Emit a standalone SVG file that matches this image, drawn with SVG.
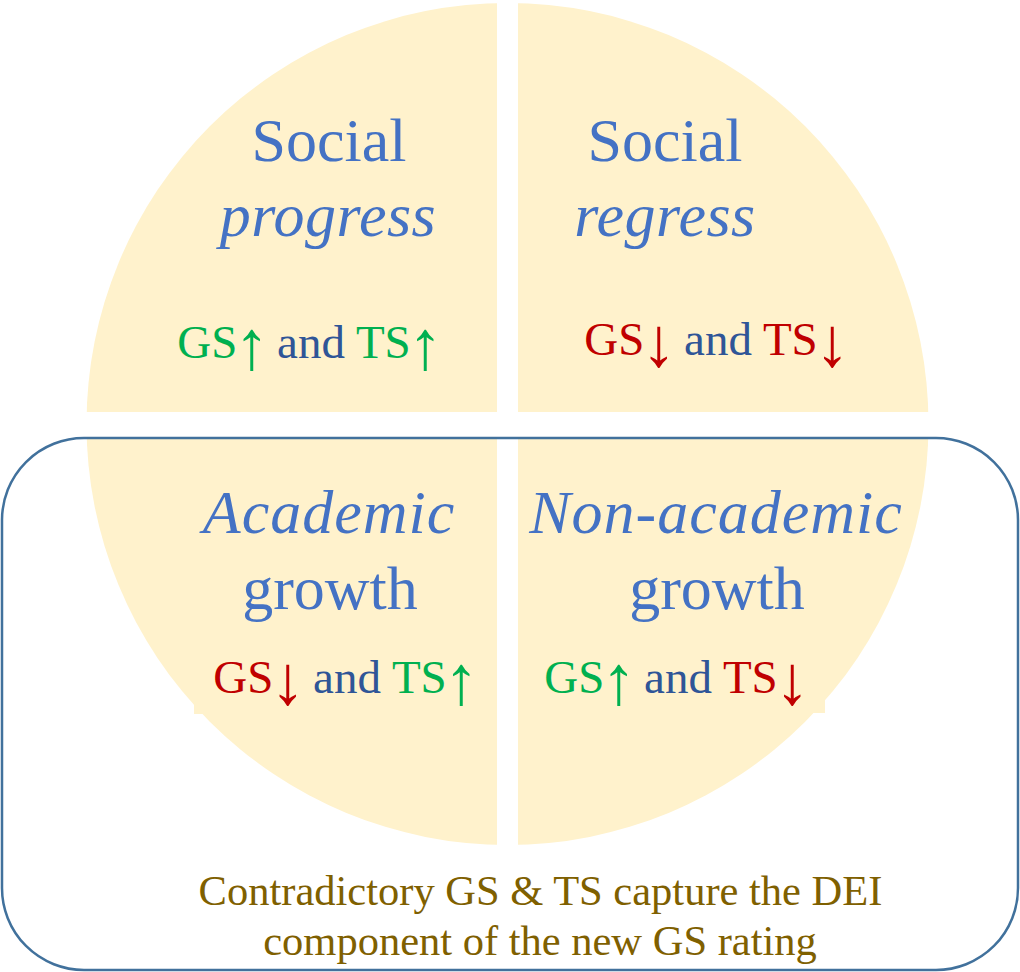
<svg xmlns="http://www.w3.org/2000/svg" width="1020" height="972" viewBox="0 0 1020 972">
  <style>
    .quad { fill: #FFF2CC; }
    .title { font-family: "Liberation Serif", "Times New Roman", serif; font-size: 62px; fill: #4472C4; text-anchor: middle; }
    .it { font-style: italic; }
    .rule { font-family: "Liberation Serif", "Times New Roman", serif; font-size: 47px; text-anchor: middle; }
    .arr { font-size: 70px; }
    .up { fill: #00B050; }
    .down { fill: #C00000; }
    .and { fill: #2F5597; }
    .note { font-family: "Liberation Serif", "Times New Roman", serif; font-size: 42.5px; fill: #7F6000; text-anchor: middle; }
    .frame { fill: none; stroke: #41719C; stroke-width: 2.5; }
  </style>
  <defs>
    <clipPath id="disc">
      <circle cx="507.5" cy="424" r="421"/>
    </clipPath>
  </defs>

  <!-- four quadrants of the disc, separated by white gaps -->
  <g id="quadrants" clip-path="url(#disc)">
    <rect class="quad" x="0" y="0" width="497" height="412"/>
    <rect class="quad" x="518" y="0" width="502" height="412"/>
    <rect class="quad" x="0" y="437" width="497" height="535"/>
    <rect class="quad" x="518" y="437" width="502" height="535"/>
  </g>
  <!-- label backgrounds of the lower quadrants -->
  <rect class="quad" x="194" y="650" width="303" height="64"/>
  <rect class="quad" x="518" y="650" width="307" height="63"/>

  <g id="social-progress">
    <text class="title" x="329" y="161">Social</text>
    <text class="title it" x="328" y="236" letter-spacing="0.5">progress</text>
    <text class="rule" x="310" y="358"><tspan class="up">GS</tspan><tspan class="up arr" dx="-3" dy="11">↑</tspan><tspan class="and" dx="-4" dy="-11"> and </tspan><tspan class="up">TS</tspan><tspan class="up arr" dx="-3" dy="11">↑</tspan></text>
  </g>

  <g id="social-regress">
    <text class="title" x="665" y="161">Social</text>
    <text class="title it" x="665" y="236" letter-spacing="0.5">regress</text>
    <text class="rule" x="717" y="355"><tspan class="down">GS</tspan><tspan class="down arr" dx="-3" dy="11">↓</tspan><tspan class="and" dx="-4" dy="-11"> and </tspan><tspan class="down">TS</tspan><tspan class="down arr" dx="-3" dy="11">↓</tspan></text>
  </g>

  <g id="academic-growth">
    <text class="title it" x="329" y="533" letter-spacing="1">Academic</text>
    <text class="title" x="330" y="609">growth</text>
    <text class="rule" x="346" y="693"><tspan class="down">GS</tspan><tspan class="down arr" dx="-3" dy="11">↓</tspan><tspan class="and" dx="-4" dy="-11"> and </tspan><tspan class="up">TS</tspan><tspan class="up arr" dx="-3" dy="11">↑</tspan></text>
  </g>

  <g id="non-academic-growth">
    <text class="title it" x="716" y="533" letter-spacing="1">Non-academic</text>
    <text class="title" x="717" y="609">growth</text>
    <text class="rule" x="677" y="693"><tspan class="up">GS</tspan><tspan class="up arr" dx="-3" dy="11">↑</tspan><tspan class="and" dx="-4" dy="-11"> and </tspan><tspan class="down">TS</tspan><tspan class="down arr" dx="-3" dy="11">↓</tspan></text>
  </g>

  <!-- frame around the two growth quadrants -->
  <g id="contradictory-frame">
    <rect class="frame" x="2" y="438" width="1016" height="532" rx="82" ry="82"/>
    <text class="note" x="540.5" y="905">Contradictory GS &amp; TS capture the DEI</text>
    <text class="note" x="540" y="955">component of the new GS rating</text>
  </g>
</svg>
